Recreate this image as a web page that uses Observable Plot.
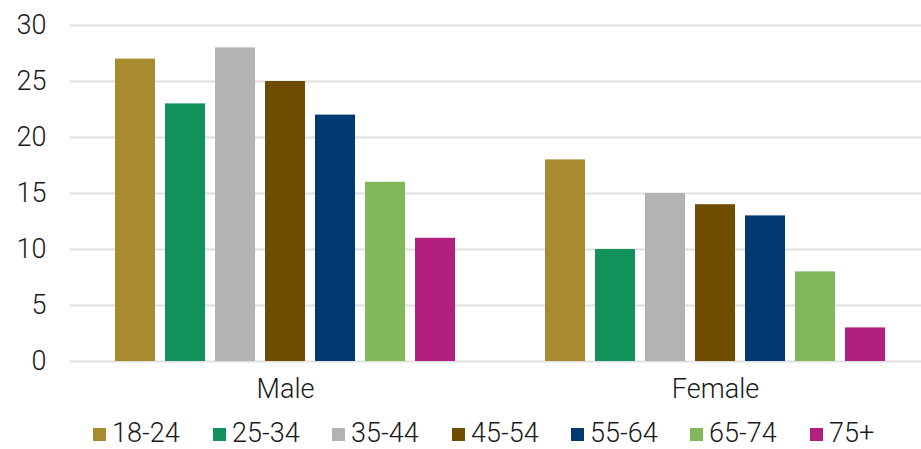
<!DOCTYPE html>
<html>
<head>
<meta charset="utf-8">
<script src="https://cdn.jsdelivr.net/npm/d3@7"></script>
<script src="https://cdn.jsdelivr.net/npm/@observablehq/plot@0.6"></script>
<style>
  body { margin: 0; background: #fff; font-family: Roboto, "Liberation Sans", Arial, sans-serif; font-weight: 300; }
  #wrap { position: relative; width: 921px; height: 449px; }
  #legend { position: absolute; left: 0; top: 419px; width: 921px; height: 28px; }
  .item { position: absolute; top: 0; display: flex; align-items: flex-start; font-size: 27px; color: #1a1a1a; line-height: 28px; height: 28px; }
  .sw { width: 13px; height: 13px; margin-top: 9px; margin-right: 6px; }
  svg text { font-weight: 300; }
</style>
</head>
<body>
<div id="wrap"><div id="chart"></div><div id="legend"></div></div>
<script>
const genders = ["Male", "Female"];
const ages = ["18-24", "25-34", "35-44", "45-54", "55-64", "65-74", "75+"];
const maleValues = [27, 23, 28, 25, 22, 16, 11];
const femaleValues = [18, 10, 15, 14, 13, 8, 3];
const colors = ["#A98B2F", "#12925A", "#B3B3B3", "#6E4C00", "#003A70", "#82B75A", "#B31F7C"];
const yTicks = [0, 5, 10, 15, 20, 25, 30];

const data = [];
ages.forEach((a, i) => data.push({gender: "Male", age: a, value: maleValues[i]}));
ages.forEach((a, i) => data.push({gender: "Female", age: a, value: femaleValues[i]}));

const chart = Plot.plot({
  width: 921,
  height: 412,
  marginLeft: 70,
  marginRight: -9,
  marginTop: 25,
  marginBottom: 51,
  style: {fontFamily: "Roboto, 'Liberation Sans', Arial, sans-serif", fontSize: "27px", color: "#1a1a1a", background: "#fff"},
  fx: {domain: genders, padding: 0, label: null},
  x: {domain: ages, axis: null, paddingInner: 0.2, paddingOuter: 0.875},
  y: {domain: [0, 30], label: null},
  color: {domain: ages, range: colors},
  marks: [
    Plot.gridY(yTicks, {stroke: "#e0e0e0", strokeOpacity: 1, strokeWidth: 2}),
    Plot.barY(data, {fx: "gender", x: "age", y: "value", fill: "age"}),
    Plot.axisY(yTicks, {tickSize: 0, tickPadding: 24, fontSize: 27, label: null}),
    Plot.axisFx({anchor: "bottom", tickSize: 0, tickPadding: 17, fontSize: 27, label: null})
  ]
});
document.getElementById("chart").appendChild(chart);

const legend = document.getElementById("legend");
const starts = [93, 213, 332, 452, 571, 690, 810];
ages.forEach((a, i) => {
  const d = document.createElement("div");
  d.className = "item";
  d.style.left = starts[i] + "px";
  d.innerHTML = `<div class="sw" style="background:${colors[i]}"></div><span>${a}</span>`;
  legend.appendChild(d);
});
</script>
</body>
</html>
